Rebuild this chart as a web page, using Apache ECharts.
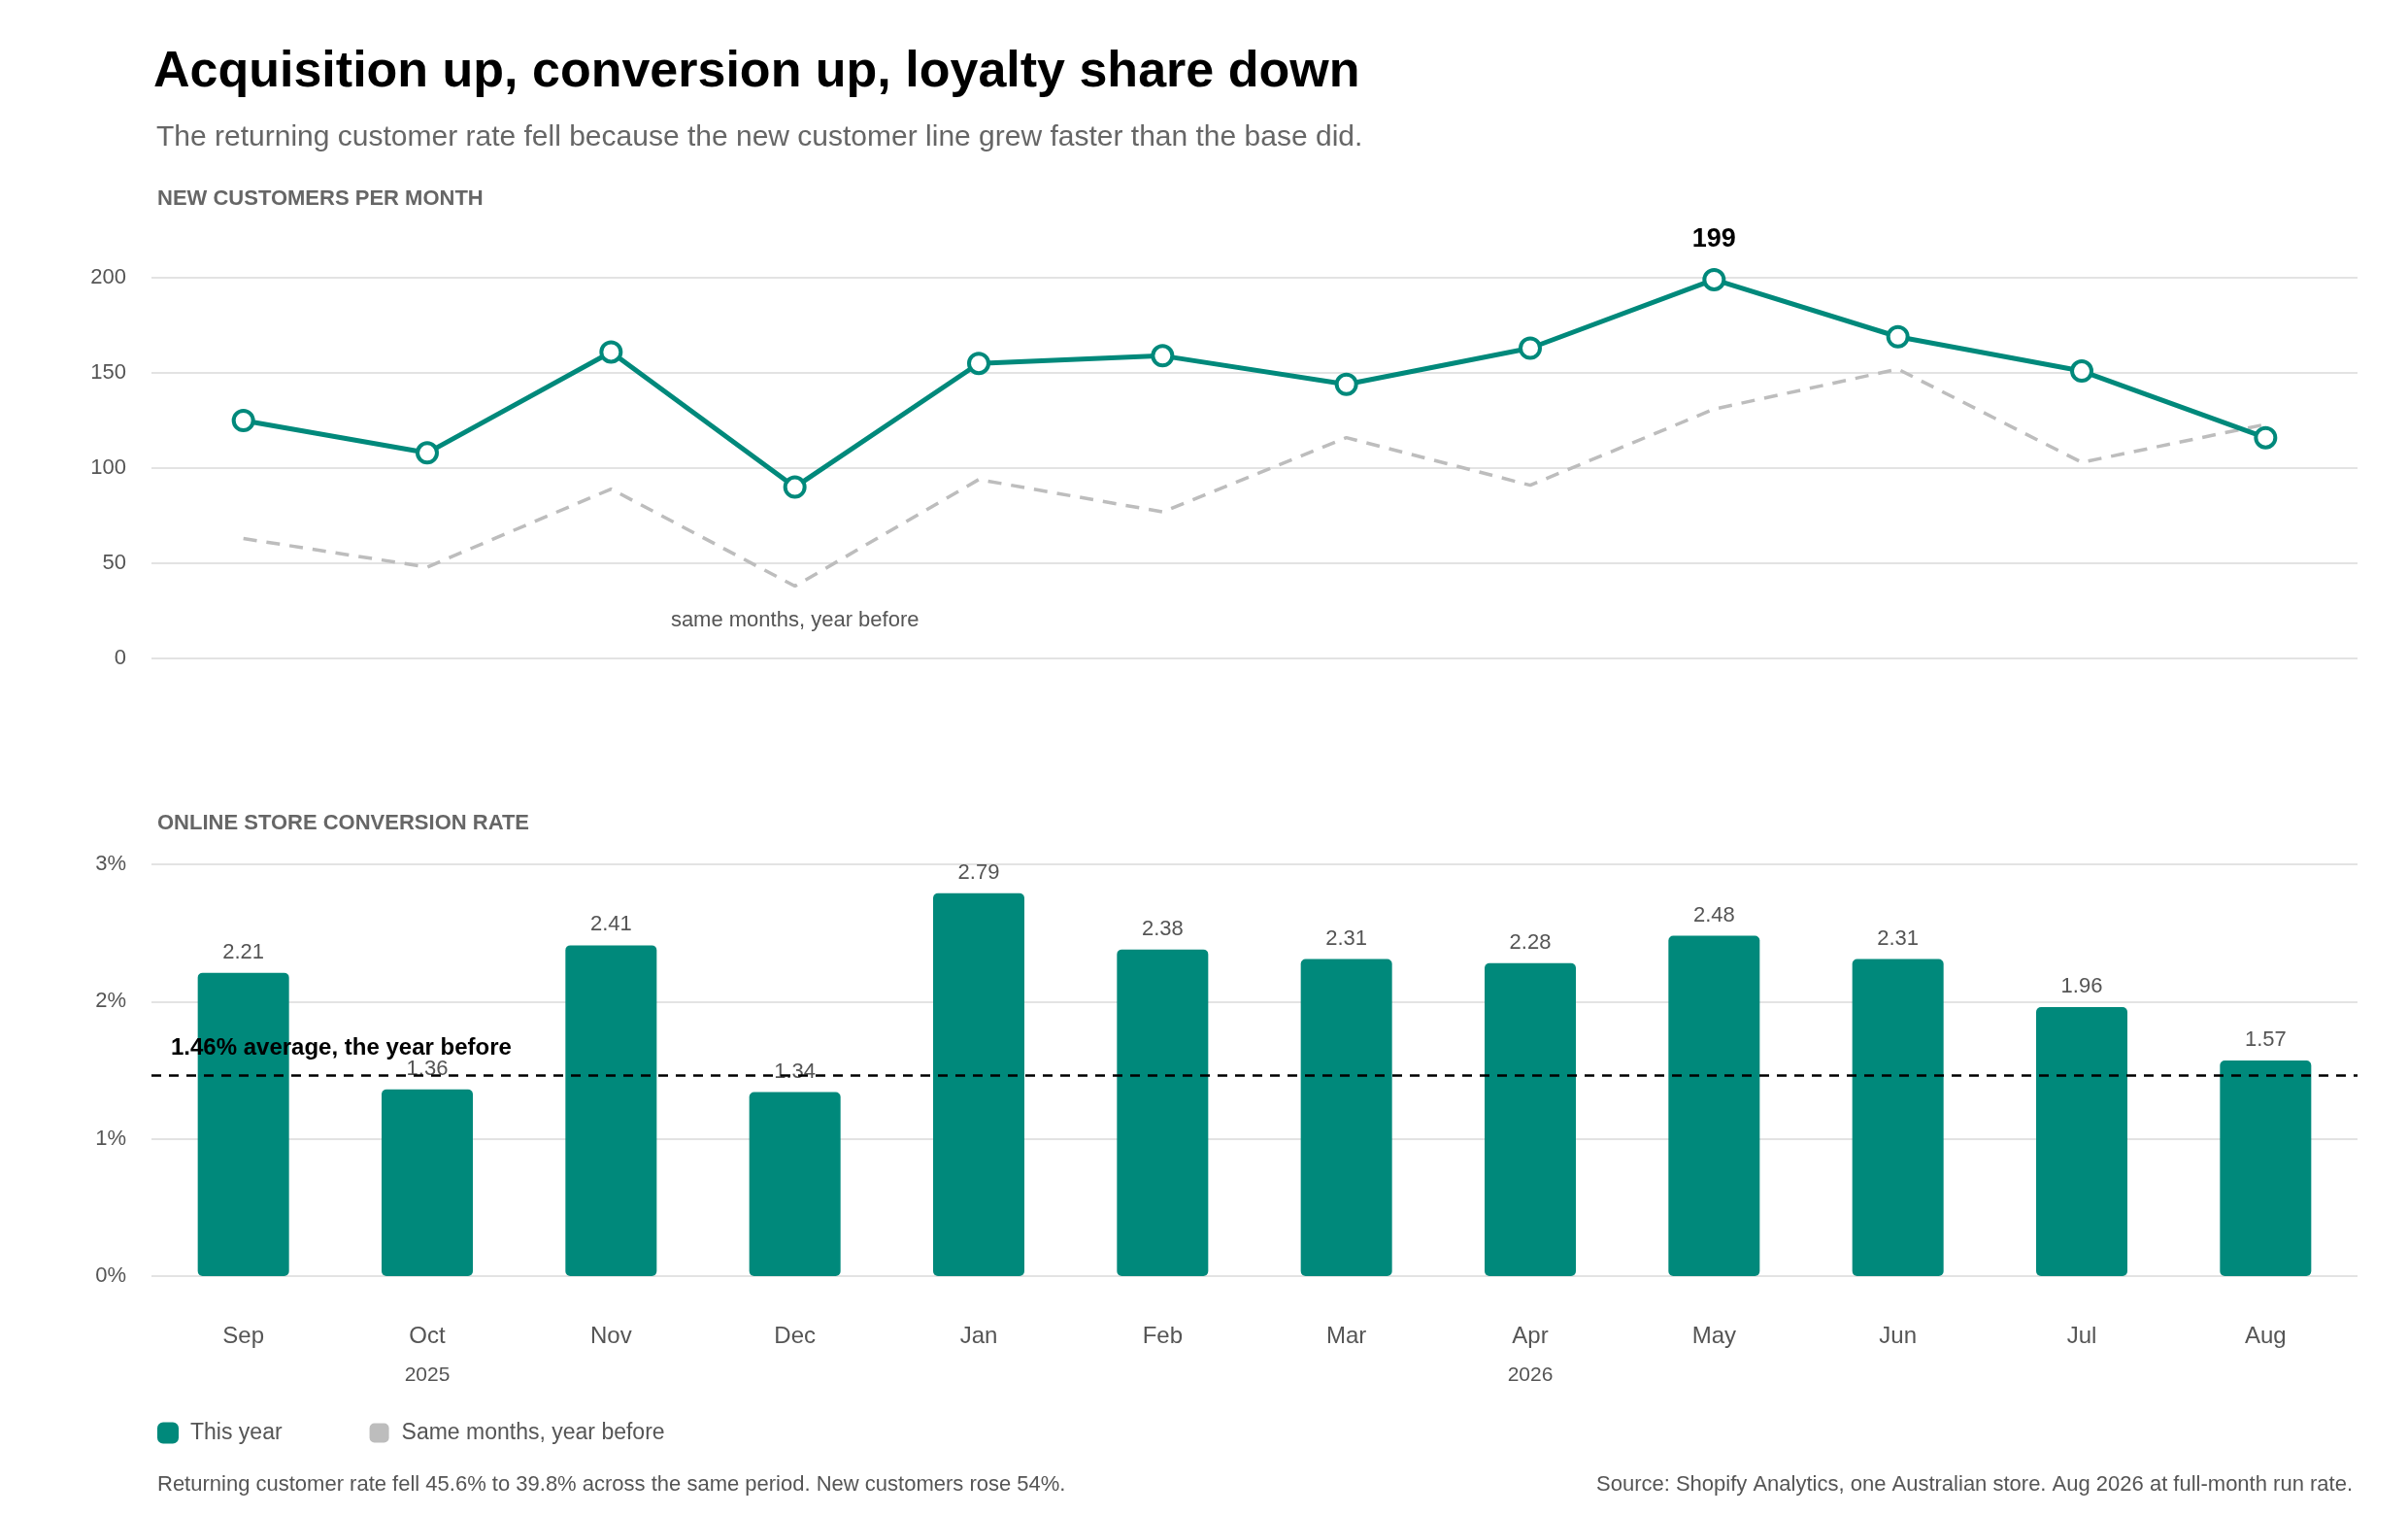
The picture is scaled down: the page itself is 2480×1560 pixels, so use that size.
<!DOCTYPE html>
<html><head><meta charset="utf-8">
<script src="https://cdn.jsdelivr.net/npm/echarts@6/dist/echarts.min.js"></script>
<style>html,body{margin:0;padding:0;background:#fff}#c{width:2480px;height:1560px}</style>
</head><body><div id="c"></div>
<script>
const months = ['Sep','Oct','Nov','Dec','Jan','Feb','Mar','Apr','May','Jun','Jul','Aug'];
const yearTags = {Oct:'2025', Apr:'2026'};
const newCustomers = [125,108,161,90,155,159,144,163,199,169,151,116];
const newCustomersPrior = [63,48,89,38,94,77,116,91,131,152,103,123];
const conversion = [2.21,1.36,2.41,1.34,2.79,2.38,2.31,2.28,2.48,2.31,1.96,1.57];
const priorAvg = 1.46;
const topTicks = [0,50,100,150,200];
const botTicks = [0,1,2,3];

const F = 'Liberation Sans, Helvetica, Arial, sans-serif';
const TEAL = '#00897B', GRAY = '#bdbdbd', TXT = '#555';
const chart = echarts.init(document.getElementById('c'));
const peak = Math.max(...newCustomers);
chart.setOption({
  animation:false,
  textStyle:{fontFamily:F},
  title:[
    {text:'Acquisition up, conversion up, loyalty share down',left:153,top:44,textStyle:{fontSize:52,fontWeight:'bold',color:'#000',fontFamily:F}},
    {text:'The returning customer rate fell because the new customer line grew faster than the base did.',left:156,top:122,textStyle:{fontSize:30,fontWeight:'normal',color:'#666',fontFamily:F}},
    {text:'NEW CUSTOMERS PER MONTH',left:157,top:189,textStyle:{fontSize:22,fontWeight:'bold',color:'#666',fontFamily:F,letterSpacing:2}},
    {text:'ONLINE STORE CONVERSION RATE',left:157,top:832,textStyle:{fontSize:22,fontWeight:'bold',color:'#666',fontFamily:F,letterSpacing:2}},
    {text:'Returning customer rate fell 45.6% to 39.8% across the same period. New customers rose 54%.',left:157,top:1513,textStyle:{fontSize:22,fontWeight:'normal',color:'#555',fontFamily:F}},
    {text:'Source: Shopify Analytics, one Australian store. Aug 2026 at full-month run rate.',right:52,top:1513,textStyle:{fontSize:22,fontWeight:'normal',color:'#555',fontFamily:F}}
  ],
  legend:{left:157,top:1459,itemWidth:20,itemHeight:20,itemGap:90,icon:'roundRect',
    textStyle:{fontSize:23,color:'#555',fontFamily:F,padding:[0,0,0,8]},
    data:[{name:'This year',itemStyle:{color:TEAL}},{name:'Same months, year before',itemStyle:{color:GRAY},lineStyle:{opacity:0}}]},
  grid:[
    {left:156,right:52,top:286,height:392},
    {left:156,right:52,top:890,height:424}
  ],
  xAxis:[
    {gridIndex:0,type:'category',data:months,boundaryGap:true,axisLine:{show:false},axisTick:{show:false},axisLabel:{show:false}},
    {gridIndex:1,type:'category',data:months,boundaryGap:true,axisLine:{show:false},axisTick:{show:false},
      axisLabel:{margin:42,fontSize:24,color:'#555',fontFamily:F,lineHeight:40,
        formatter:v=>yearTags[v]?v+'\n{y|'+yearTags[v]+'}':v,
        rich:{y:{fontSize:21,color:'#555',fontFamily:F,lineHeight:40}}}}
  ],
  yAxis:[
    {gridIndex:0,type:'value',min:0,max:200,interval:50,axisLabel:{fontSize:22,color:'#555',margin:26,fontFamily:F},splitLine:{lineStyle:{color:'#e3e3e3',width:2}}},
    {gridIndex:1,type:'value',min:0,max:3,interval:1,axisLabel:{fontSize:22,color:'#555',margin:26,fontFamily:F,formatter:'{value}%'},splitLine:{lineStyle:{color:'#e3e3e3',width:2}}}
  ],
  series:[
    {name:'Same months, year before',type:'line',xAxisIndex:0,yAxisIndex:0,data:newCustomersPrior,symbol:'none',
      itemStyle:{color:GRAY},lineStyle:{color:GRAY,width:3.5,type:[14,10]},z:2,
      markPoint:{symbol:'circle',symbolSize:0,data:[{coord:['Dec',20],value:'',label:{show:true,formatter:'same months, year before',color:'#555',fontSize:22,fontFamily:F}}]}},
    {name:'This year',type:'line',xAxisIndex:0,yAxisIndex:0,
      data:newCustomers.map(v=>v===peak?{value:v,label:{show:true,formatter:'{c}',position:'top',distance:16,fontSize:27,fontWeight:'bold',color:'#000',fontFamily:F}}:v),
      symbol:'circle',symbolSize:20,itemStyle:{color:'#fff',borderColor:TEAL,borderWidth:4},lineStyle:{color:TEAL,width:5},z:3},
    {name:'This year',type:'bar',xAxisIndex:1,yAxisIndex:1,data:conversion,barWidth:94,
      itemStyle:{color:TEAL,borderRadius:5},
      label:{show:true,position:'top',distance:10,fontSize:22,color:'#555',fontFamily:F,formatter:p=>p.value.toFixed(2)},
      markLine:{silent:true,symbol:'none',lineStyle:{color:'#000',type:[10,8],width:2.5},
        data:[{yAxis:priorAvg,label:{show:true,position:'insideStartTop',distance:[20,16],formatter:priorAvg+'% average, the year before',fontSize:24,fontWeight:'bold',color:'#000',fontFamily:F}}]}}
  ]
});
</script></body></html>
